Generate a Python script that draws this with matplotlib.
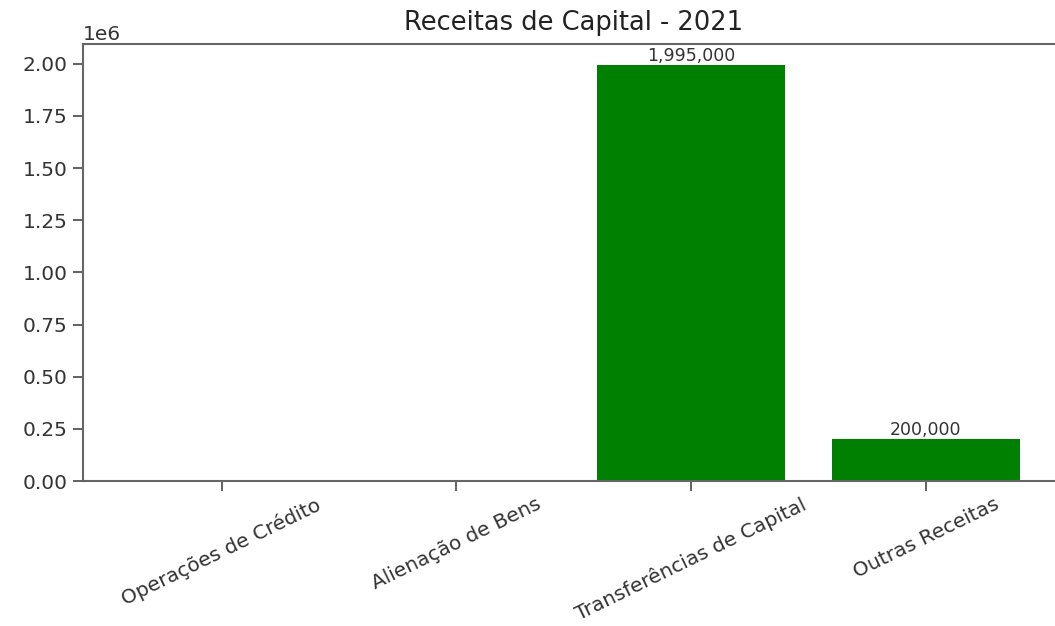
import matplotlib
matplotlib.use("Agg")
import matplotlib.pyplot as plt

categories = ["Operações de Crédito", "Alienação de Bens", "Transferências de Capital", "Outras Receitas"]
values = [0, 0, 1995000, 200000]
title = "Receitas de Capital - 2021"

fig = plt.figure(figsize=(10.55, 6.26), dpi=100)
ax = fig.add_axes([0.0787, 0.2316, 0.9303, 0.6981])

bars = ax.bar(categories, values, color="green")
labels = [f"{v:,.0f}" if v else "" for v in values]
ax.bar_label(bars, labels=labels, fontsize=12.5, color="#333333", padding=0)

ax.set_title(title, fontsize=18.5, color="#222222", pad=10)
ax.tick_params(axis="both", labelsize=14.5, colors="#555555", labelcolor="#333333", length=7, width=1.3, pad=4)
ax.tick_params(axis="x", pad=3)
ax.ticklabel_format(axis="y", style="sci", scilimits=(0, 0))
ax.yaxis.get_offset_text().set_fontsize(14.5)
ax.yaxis.get_offset_text().set_color("#333333")
for s in ax.spines.values():
    s.set_color("#666666")
    s.set_linewidth(1.5)
plt.setp(ax.get_xticklabels(), rotation=26, ha="center")

fig.savefig("out.png", dpi=100)
